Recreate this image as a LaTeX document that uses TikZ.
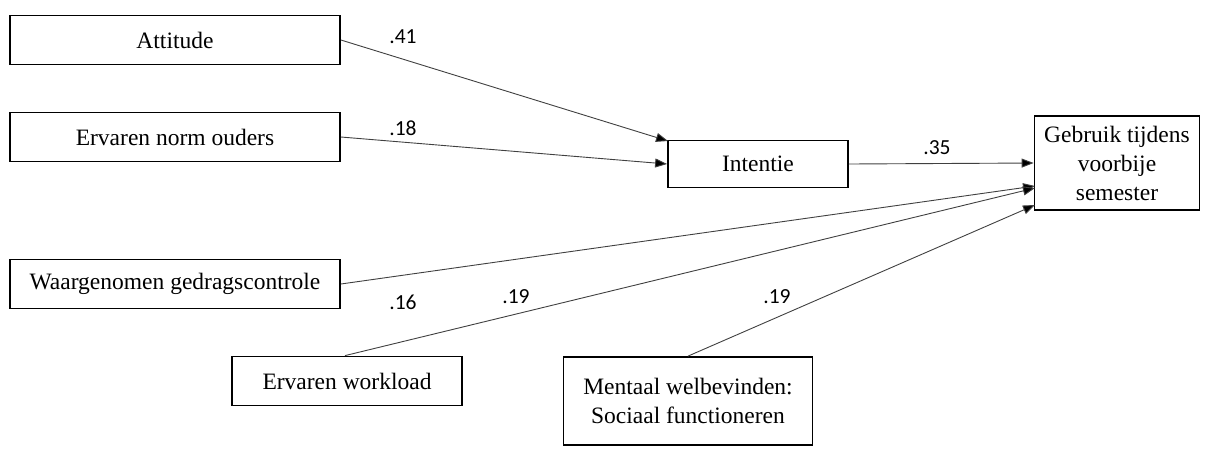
\documentclass[tikz,border=0pt]{standalone}
\usepackage{fontspec}
\setmainfont{Liberation Serif}
\newfontfamily\lblfont{Carlito}
\usetikzlibrary{arrows.meta}
\begin{document}
\begin{tikzpicture}[x=1pt,y=-1pt,
  box/.style={draw=black,line width=1.8pt,inner sep=0pt,align=center,
    font=\fontsize{23.5}{29}\selectfont},
  conn/.style={draw=black!75,line width=0.9pt,-{Triangle[length=12pt,width=9pt,fill=black]}},
  coef/.style={font=\lblfont\fontsize{21.5}{24}\selectfont,inner sep=0pt}]
\useasboundingbox (0,0) rectangle (1209,448);
\node[box,minimum width=330pt,minimum height=49pt] (att) at (175,40) {Attitude};
\node[box,minimum width=330pt,minimum height=49pt] (norm) at (175,137) {Ervaren norm ouders};
\node[box,minimum width=330pt,minimum height=49pt] (pbc) at (175,284) {Waargenomen gedragscontrole};
\node[box,minimum width=230pt,minimum height=49pt] (work) at (347,381) {Ervaren workload};
\node[box,minimum width=249pt,minimum height=88pt] (ment) at (688,401) {Mentaal welbevinden:\\Sociaal functioneren};
\node[box,minimum width=180pt,minimum height=47pt] (int) at (758,164) {Intentie};
\node[box,minimum width=165pt,minimum height=94pt] (geb) at (1117,163) {Gebruik tijdens\\voorbije\\semester};
\coordinate (intTL) at (668,141);
\coordinate (gA) at (1035,186);
\coordinate (gB) at (1035,188);
\coordinate (gC) at (1035,205);
\draw[conn] (att.east) -- (intTL);
\draw[conn] (norm.east) -- (int.west);
\draw[conn] (int.east) -- (geb.west);
\draw[conn] (pbc.east) -- (gA);
\draw[conn] (work.north) ++(-2,0) coordinate (wn) (wn) -- (gB);
\draw[conn] (ment.north) -- (gC);
\node[coef] (l1) at (403,37) {.41};
\node[coef] (l2) at (403,128) {.18};
\node[coef] (l3) at (937,148) {.35};
\node[coef] (l4) at (403,302) {.16};
\node[coef] (l5) at (516,297) {.19};
\node[coef] (l6) at (777,297) {.19};
\end{tikzpicture}
\end{document}
